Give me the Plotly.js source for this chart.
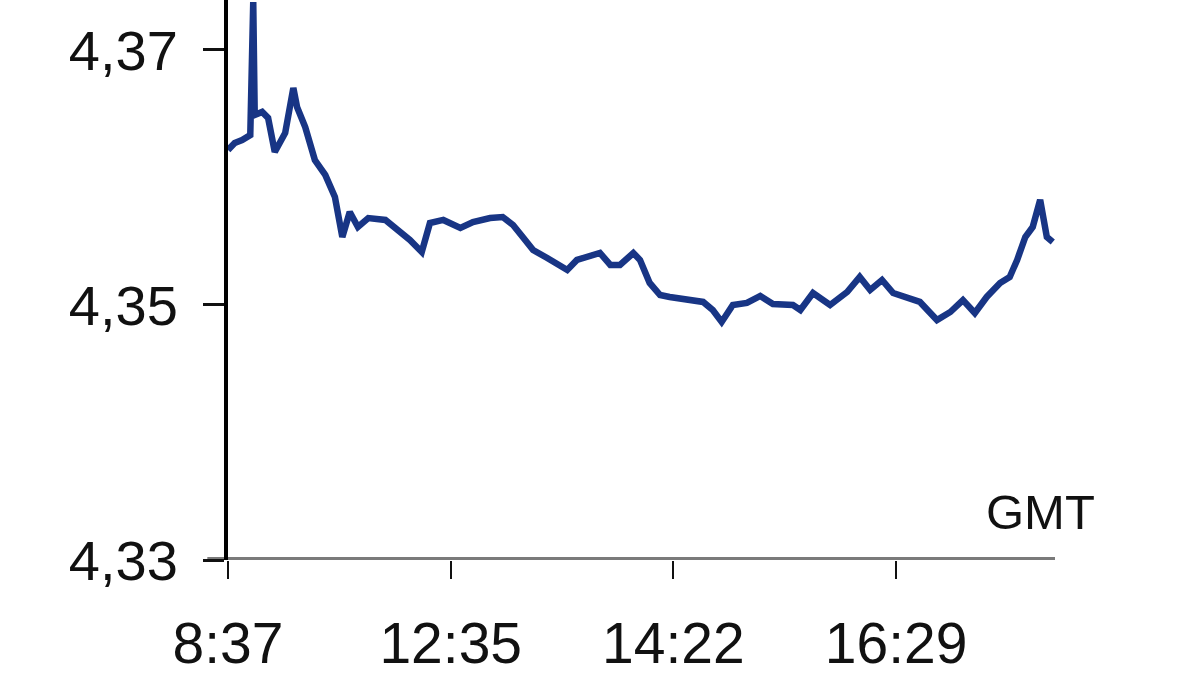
<!DOCTYPE html>
<html>
<head>
<meta charset="utf-8">
<script src="https://cdn.plot.ly/plotly-3.0.1.min.js"></script>
<style>html,body{margin:0;padding:0;background:#fff;}#chart{width:1200px;height:675px;}</style>
</head>
<body>
<div id="chart"></div>
<script>
// sample position (trading-session index) and yield values
const sampleIdx = [0,0.9,1.9,3.0,3.4,3.6,4.6,5.4,6.3,7.7,8.8,9.3,10.4,11.7,13.1,14.4,15.4,16.4,17.5,18.9,21.2,22.9,24.5,26.1,27.2,29.0,31.3,33.0,35.3,37.0,38.4,39.7,41.1,43.0,45.7,47.0,50.1,51.5,52.8,54.6,55.5,56.8,58.2,59.5,61.8,64.0,65.3,66.5,68.0,69.9,71.7,73.4,76.1,77.1,78.8,81.1,83.4,85.1,86.5,88.1,89.6,92.3,93.2,95.5,97.3,99.0,100.6,102.2,104.0,105.3,106.3,107.4,108.4,109.4,110.3,111.1];
const yieldVals = [4.36216,4.36271,4.36294,4.36333,4.37376,4.3649,4.36514,4.36467,4.362,4.36349,4.36702,4.36553,4.36396,4.36137,4.3602,4.35847,4.35533,4.35729,4.35612,4.35682,4.35667,4.35588,4.3551,4.35416,4.35643,4.35667,4.35604,4.35651,4.35682,4.3569,4.35627,4.35533,4.35431,4.35369,4.35275,4.35353,4.35408,4.35314,4.35314,4.35408,4.35353,4.35173,4.35078,4.35063,4.35039,4.35024,4.34961,4.34867,4.35,4.35016,4.35071,4.35008,4.35,4.34961,4.35094,4.35,4.35102,4.3522,4.35118,4.35196,4.35094,4.35039,4.35024,4.34882,4.34945,4.35039,4.34937,4.35063,4.35173,4.3522,4.35353,4.35533,4.35612,4.35824,4.35533,4.35494];
const xTickVals = [0,30,60,90];
const xTickText = ['8:37','12:35','14:22','16:29'];
const yTickVals = [4.33,4.35,4.37];
const yTickText = ['4,33','4,35','4,37'];

const trace = {
  x: sampleIdx, y: yieldVals, type: 'scatter', mode: 'lines',
  line: {color: '#183585', width: 6.5, shape: 'linear'},
  hoverinfo: 'skip'
};
const layout = {
  width: 1200, height: 675,
  margin: {l: 228, r: 145, t: 0, b: 115, pad: 0},
  paper_bgcolor: '#ffffff', plot_bgcolor: '#ffffff',
  showlegend: false,
  xaxis: {
    range: [0, 111.4], tickvals: xTickVals, ticktext: xTickText,
    ticks: 'outside', ticklen: 18, tickwidth: 2, tickcolor: '#111',
    showgrid: false, zeroline: false, showline: false,
    ticklabelstandoff: 16,
    tickfont: {family: 'Liberation Sans, Arial, sans-serif', size: 57, color: '#111'}
  },
  yaxis: {
    range: [4.33, 4.37392], tickvals: yTickVals, ticktext: yTickText,
    ticks: 'outside', ticklen: 21, tickwidth: 3, tickcolor: '#111',
    showgrid: false, zeroline: false, showline: true, linecolor: '#000', linewidth: 4,
    ticklabelstandoff: 14,
    tickfont: {family: 'Liberation Sans, Arial, sans-serif', size: 56, color: '#111'}
  },
  shapes: [{
    type: 'line', xref: 'paper', yref: 'y', x0: -0.025, x1: 1, y0: 4.33, y1: 4.33,
    line: {color: '#7a7a7a', width: 6}, layer: 'below'
  }],
  annotations: [{
    text: 'GMT', xref: 'paper', yref: 'paper', x: 1.051, y: 0.085,
    xanchor: 'right', yanchor: 'middle', showarrow: false,
    font: {family: 'Liberation Sans, Arial, sans-serif', size: 49, color: '#111'}
  }]
};
Plotly.newPlot('chart', [trace], layout, {staticPlot: true, displayModeBar: false});
</script>
</body>
</html>
